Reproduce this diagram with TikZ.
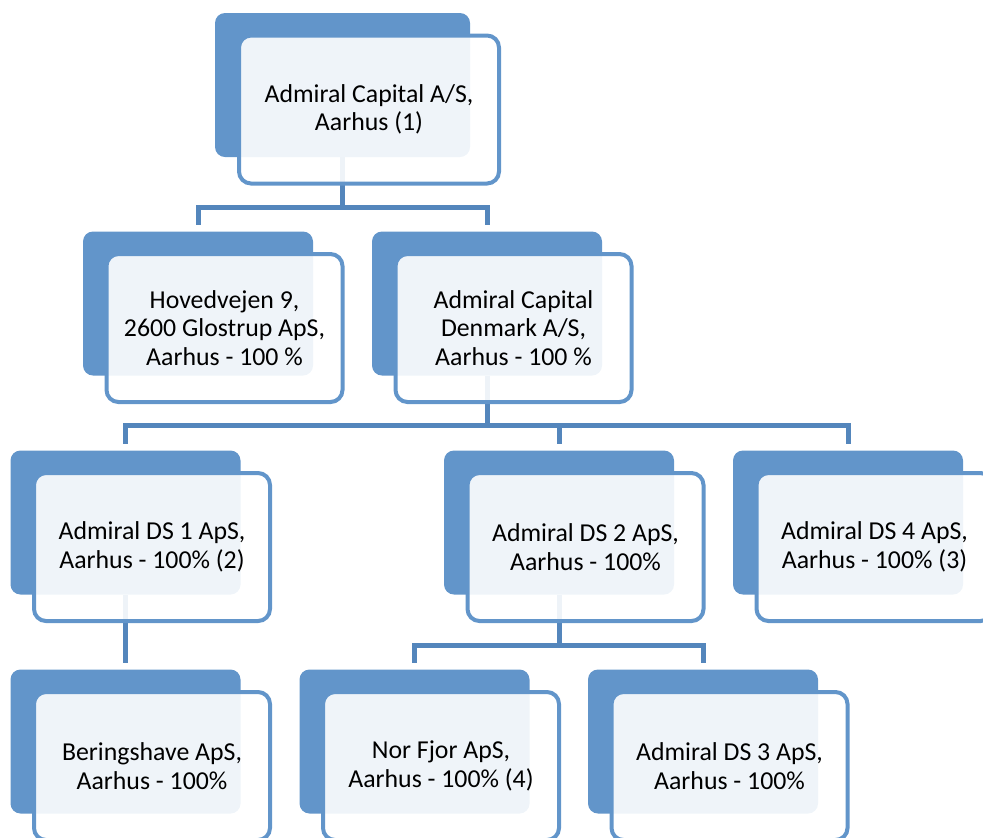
\documentclass[tikz,border=0pt]{standalone}
\usepackage{fontspec}
\setmainfont{Carlito}
\definecolor{boxblue}{RGB}{98,149,202}
\definecolor{lineblue}{RGB}{84,134,188}
\begin{document}
\begin{tikzpicture}[
        x=0.5pt, y=-0.5pt,
        backbox/.style={rectangle, rounded corners=5pt, fill=boxblue, inner sep=0pt,
            minimum width=115pt, minimum height=72pt},
        frontbox/.style={rectangle, rounded corners=6pt, draw=boxblue, line width=2pt,
            fill=white, fill opacity=0.9, text opacity=1, inner sep=0pt,
            minimum width=118pt, minimum height=74pt, xshift=13.25pt, yshift=-12.25pt,
            align=center, font=\fontsize{12.9}{14.2}\selectfont},
        conn/.style={draw=lineblue, line width=2.5pt}
    ]
        \useasboundingbox (0,0) rectangle (983,837);
        \clip (0,0) rectangle (983,837);

        % Back boxes
        \node[backbox, minimum width=127.5pt] (top) at (342.5,85) {};
        \node[backbox] (hov) at (198,303.5) {};
        \node[backbox] (acd) at (487,303.5) {};
        \node[backbox] (ds1) at (125.5,522.5) {};
        \node[backbox] (ds2) at (559,522.5) {};
        \node[backbox] (ds4) at (848,522.5) {};
        \node[backbox] (ber) at (125.5,741.5) {};
        \node[backbox] (nor) at (414.5,741.5) {};
        \node[backbox] (ds3) at (703,741.5) {};

        % Connectors
        \coordinate (bar1) at (342.5,207);
        \coordinate (bar2) at (487,425.5);
        \coordinate (bar3) at (559,645);
        \draw[conn] (top.south) -- (bar1) -| ([yshift=3pt]hov.north);
        \draw[conn] (top.south) -- (bar1) -| ([yshift=3pt]acd.north);
        \draw[conn] (acd.south) -- (bar2) -| ([yshift=3pt]ds1.north);
        \draw[conn] (acd.south) -- (bar2) -| ([yshift=3pt]ds2.north);
        \draw[conn] (acd.south) -- (bar2) -| ([yshift=3pt]ds4.north);
        \draw[conn] (ds1.south) -- ([yshift=3pt]ber.north);
        \draw[conn] (ds2.south) -- (bar3) -| ([yshift=3pt]nor.north);
        \draw[conn] (ds2.south) -- (bar3) -| ([yshift=3pt]ds3.north);

        % Front boxes with the texts
        \node[frontbox, minimum width=130pt] (topf) at (top) {Admiral Capital A/S,\\Aarhus (1)};
        \node[frontbox] (hovf) at (hov) {Hovedvejen 9,\\2600 Glostrup ApS,\\Aarhus - 100 \%};
        \node[frontbox] (acdf) at (acd) {Admiral Capital\\Denmark A/S,\\Aarhus - 100 \%};
        \node[frontbox] (ds1f) at (ds1) {Admiral DS 1 ApS,\\Aarhus - 100\% (2)};
        \node[frontbox] (ds2f) at (ds2) {Admiral DS 2 ApS,\\Aarhus - 100\%};
        \node[frontbox] (ds4f) at (ds4) {Admiral DS 4 ApS,\\Aarhus - 100\% (3)};
        \node[frontbox] (berf) at (ber) {Beringshave ApS,\\Aarhus - 100\%};
        \node[frontbox] (norf) at (nor) {Nor Fjor ApS,\\Aarhus - 100\% (4)};
        \node[frontbox] (ds3f) at (ds3) {Admiral DS 3 ApS,\\Aarhus - 100\%};
    \end{tikzpicture}
\end{document}
